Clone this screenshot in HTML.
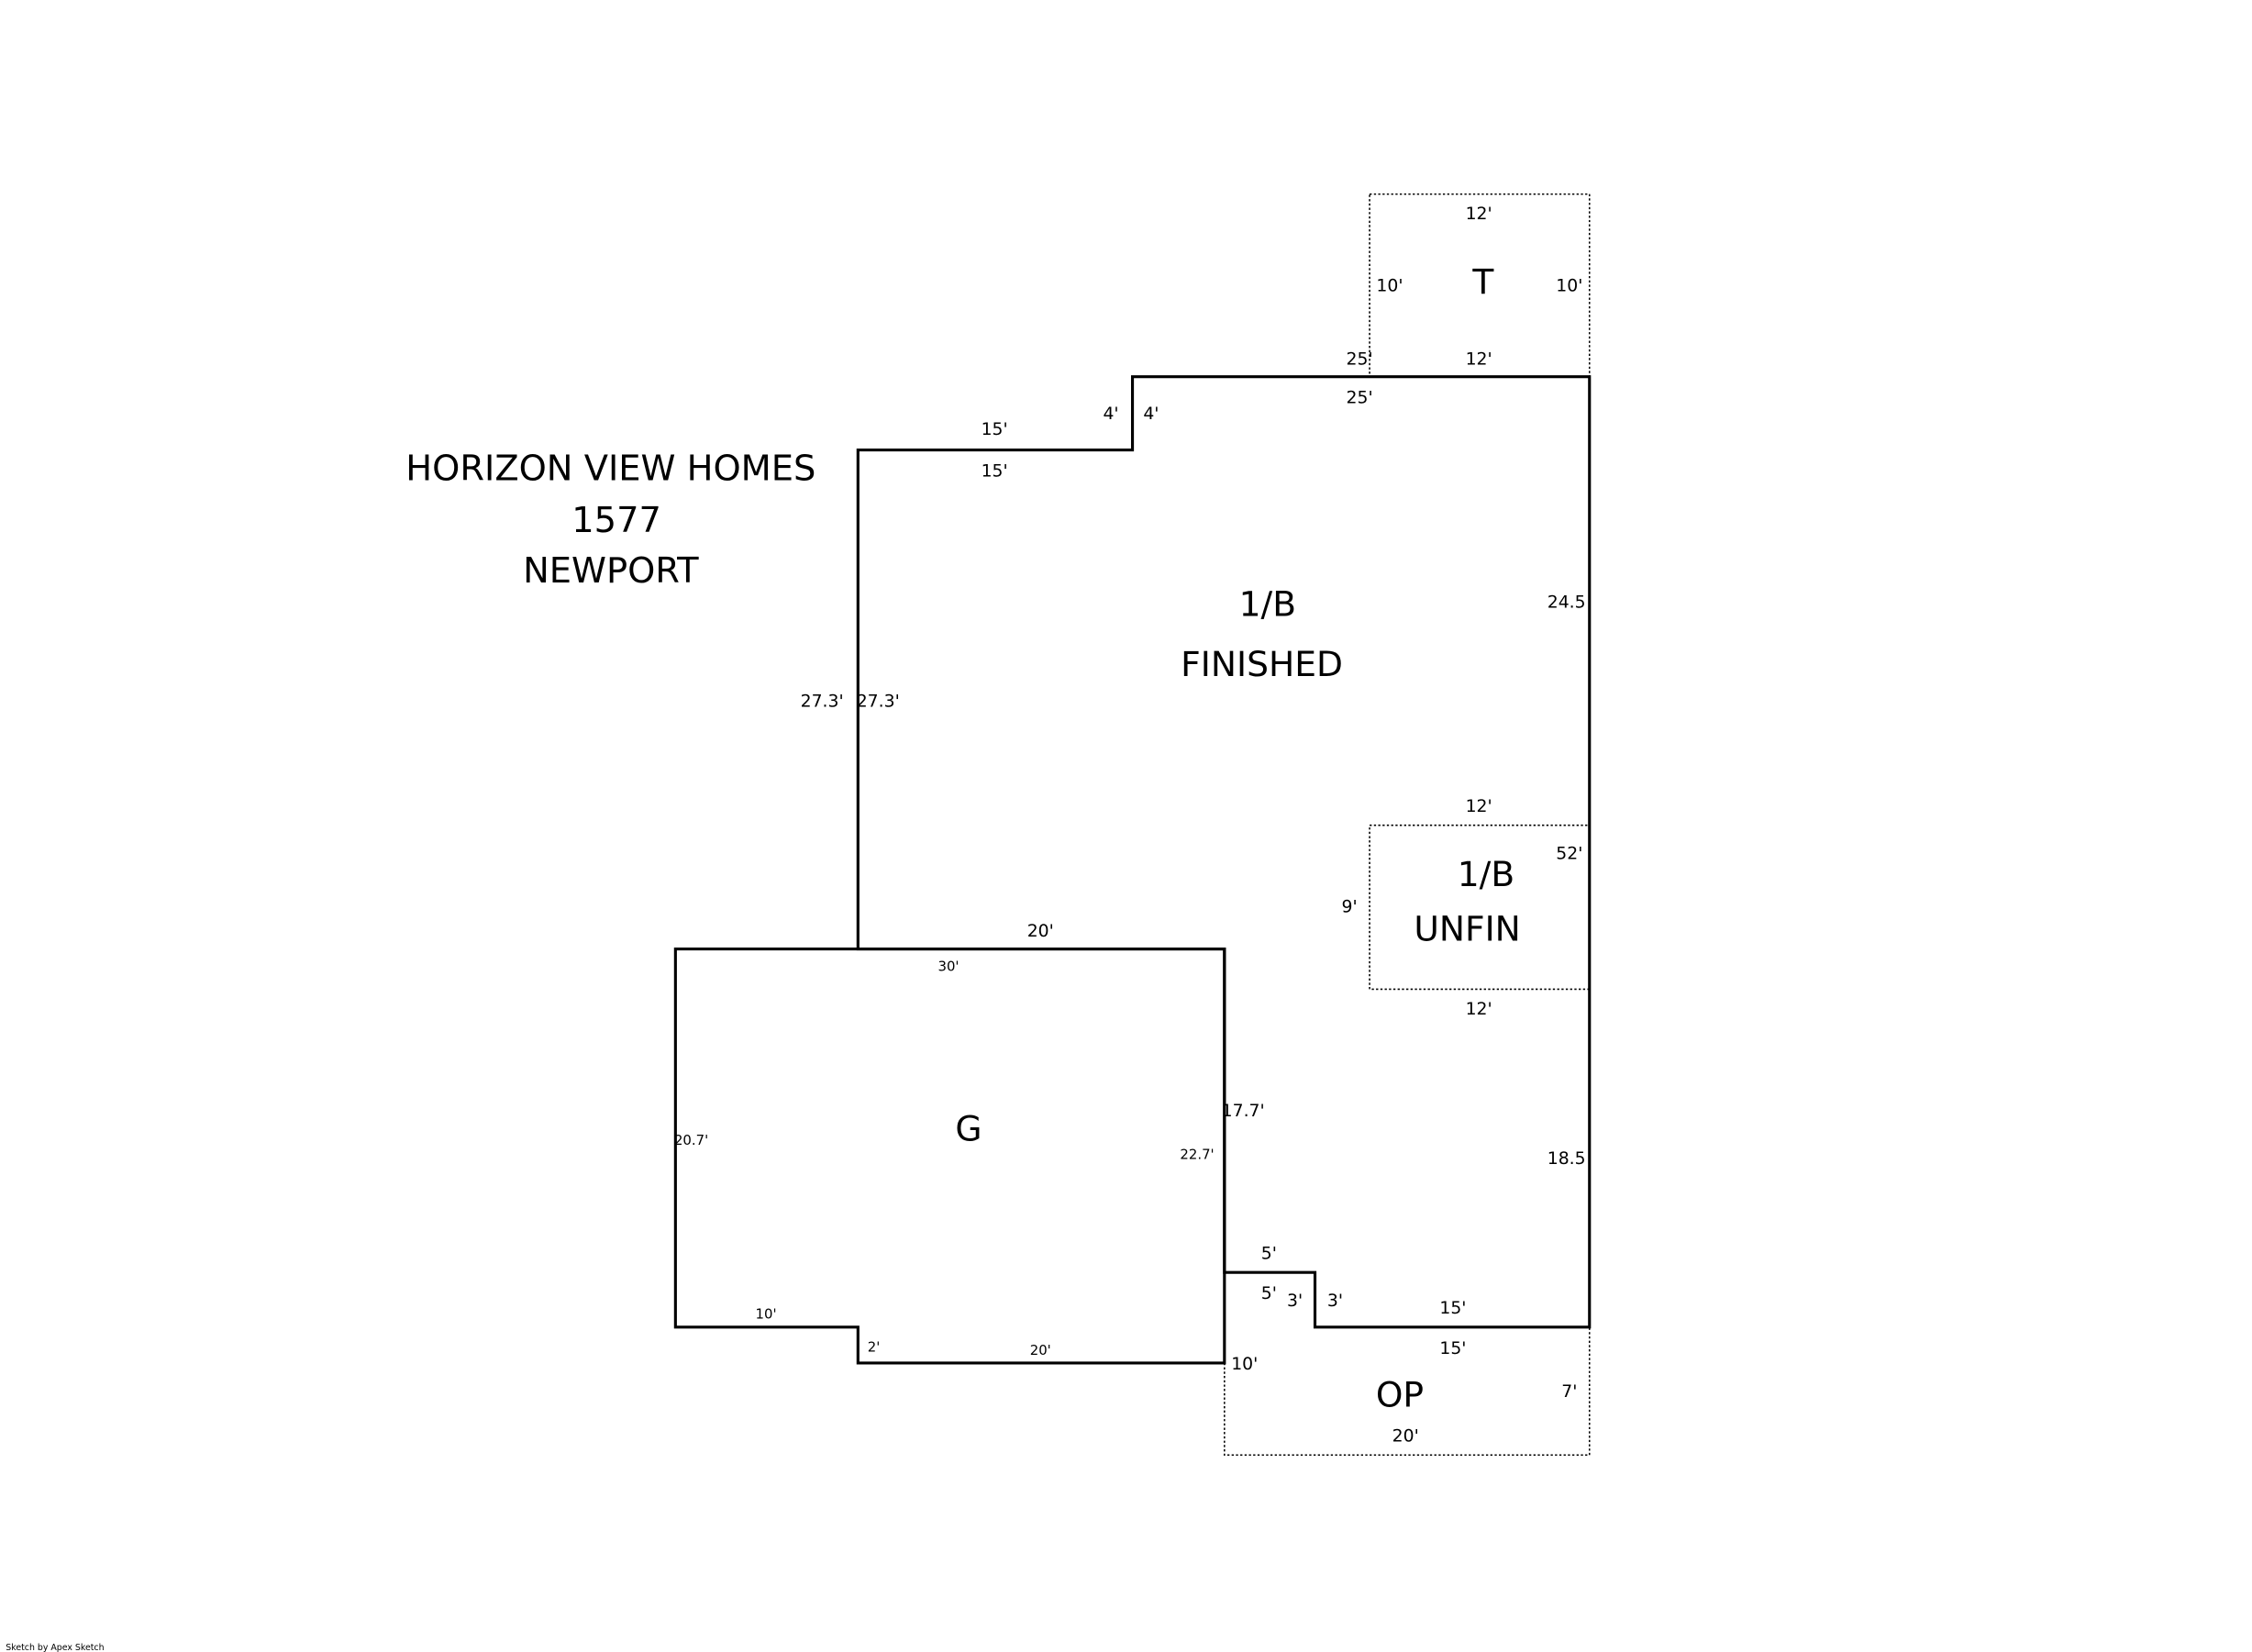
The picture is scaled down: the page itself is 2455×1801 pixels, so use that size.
<!DOCTYPE html>
<html><head><meta charset="utf-8"><style>
html,body{margin:0;padding:0;background:#fff;}
svg{display:block;}
text{font-family:"DejaVu Sans","Liberation Sans",sans-serif;fill:#000;text-anchor:middle;dominant-baseline:central;}
.s{font-size:12px;}
.t{font-size:9.5px;}
.r{font-size:24px;}
.h{font-size:24.5px;}
</style></head><body>
<svg width="2455" height="1801" viewBox="0 0 1567 1149" preserveAspectRatio="none" xmlns="http://www.w3.org/2000/svg">
<rect width="1567" height="1149" fill="#fff"/>
<g fill="none" stroke="#000" stroke-width="1" stroke-dasharray="1.5,1.5">
<rect x="953" y="135" width="153" height="127"/>
<rect x="953" y="574" width="153" height="114"/>
<path d="M852,948 L852,1012 L1106,1012 L1106,923 M915,923 L1106,923"/>
</g>
<g fill="none" stroke="#000" stroke-width="2" stroke-linejoin="miter">
<polygon points="597,313 788,313 788,262 1106,262 1106,923 915,923 915,885 852,885 852,660 597,660"/>
<polygon points="470,660 852,660 852,948 597,948 597,923 470,923"/>
</g>
<text class="h" x="425" y="326">HORIZON VIEW HOMES</text>
<text class="h" x="429" y="362">1577</text>
<text class="h" x="425" y="397">NEWPORT</text>

<text class="s" x="1029" y="149">12'</text>
<text class="s" x="967" y="199">10'</text>
<text class="r" x="1032" y="196">T</text>
<text class="s" x="1092" y="199">10'</text>
<text class="s" x="946" y="250">25'</text>
<text class="s" x="1029" y="250">12'</text>
<text class="s" x="946" y="277">25'</text>
<text class="s" x="773" y="288">4'</text>
<text class="s" x="801" y="288">4'</text>
<text class="s" x="692" y="299">15'</text>
<text class="s" x="692" y="328">15'</text>
<text class="r" x="882" y="420">1/B</text>
<text class="r" x="878" y="462">FINISHED</text>
<text class="s" x="1090" y="419">24.5</text>
<text class="s" x="572" y="488">27.3'</text>
<text class="s" x="611" y="488">27.3'</text>
<text class="s" x="1029" y="561">12'</text>
<text class="s" x="1092" y="594">52'</text>
<text class="r" x="1034" y="608">1/B</text>
<text class="r" x="1021" y="646">UNFIN</text>
<text class="s" x="939" y="631">9'</text>
<text class="s" x="724" y="648">20'</text>
<text class="t" x="660" y="672">30'</text>
<text class="s" x="1029" y="702">12'</text>
<text class="s" x="865" y="773">17.7'</text>
<text class="r" x="674" y="785">G</text>
<text class="t" x="481" y="793">20.7'</text>
<text class="t" x="833" y="803">22.7'</text>
<text class="s" x="1090" y="806">18.5</text>
<text class="s" x="883" y="872">5'</text>
<text class="s" x="883" y="900">5'</text>
<text class="s" x="901" y="905">3'</text>
<text class="s" x="929" y="905">3'</text>
<text class="s" x="1011" y="910">15'</text>
<text class="t" x="533" y="914">10'</text>
<text class="t" x="608" y="937">2'</text>
<text class="t" x="724" y="939">20'</text>
<text class="s" x="1011" y="938">15'</text>
<text class="s" x="866" y="949">10'</text>
<text class="r" x="974" y="970">OP</text>
<text class="s" x="1092" y="968">7'</text>
<text class="s" x="978" y="999">20'</text>
<text x="4" y="1146" style="font-size:6px;text-anchor:start">Sketch by Apex Sketch</text>
</svg>
</body></html>
